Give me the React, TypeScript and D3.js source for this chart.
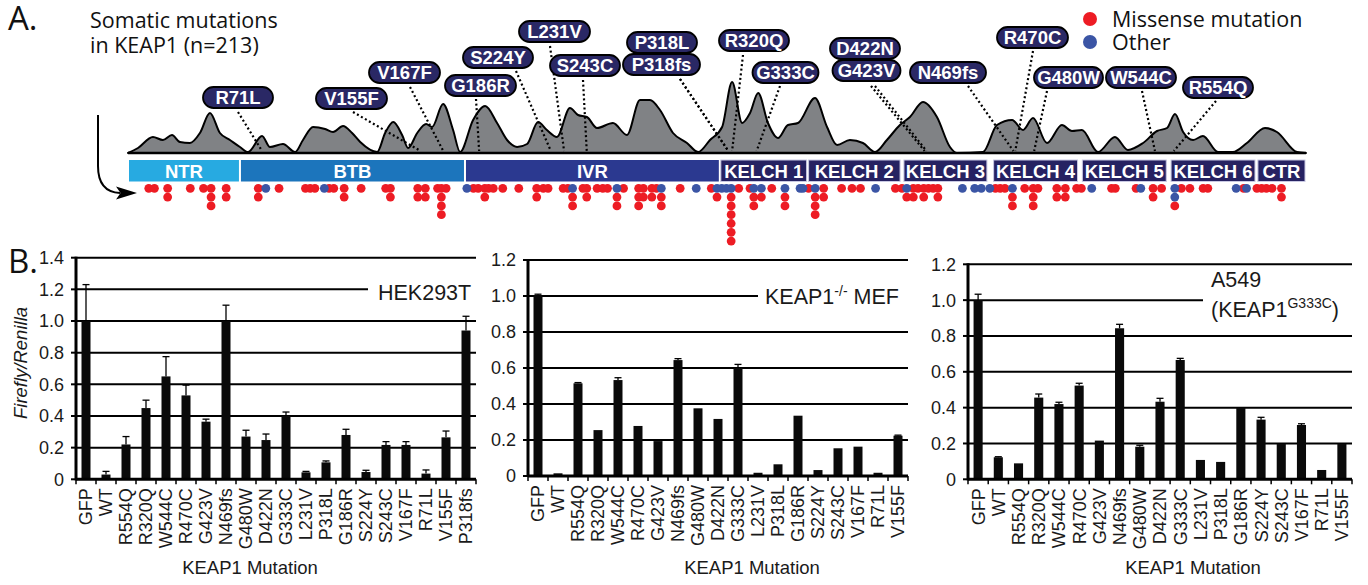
import React from "react";
import * as d3 from "d3";

const ARIAL = "Arial, 'Liberation Sans', Helvetica, sans-serif";
const HUM = "'Open Sans', Lato, sans-serif";

// ---------- Panel A data ----------
const proteinLength = 624;

const domainNames = ["NTR", "BTB", "IVR", "KELCH 1", "KELCH 2", "KELCH 3", "KELCH 4", "KELCH 5", "KELCH 6", "CTR"];
const domainStarts = [0, 59.3, 178.5, 313.5, 360, 410.5, 458, 505, 552, 598];
const domainEnds = [59.3, 178.5, 313.5, 360, 409.5, 455.5, 503.5, 550.5, 597.5, 624];

// density profile of mutations along the protein: [residue, relative density]
const densityProfile: [number, number][] = [
  [0, 0], [5.3, 5], [13.2, 16], [18.5, 13], [23.3, 18], [27.5, 11], [32.8, 10], [38.1, 20], [43.4, 40], [48.7, 20],
  [54, 13], [59.3, 6], [63.6, 1], [71, 17], [75.2, 6], [82.1, 9], [88.5, 1], [92.7, 13], [98, 26], [104.4, 24],
  [108.6, 21], [113.9, 27], [118.7, 20], [123, 11], [132, 1], [136.2, 20], [140.5, 31], [145.2, 18], [148.4, 5],
  [153.2, 20], [157.9, 29], [161.1, 26], [166.9, 49], [172.2, 23], [175.9, 1], [182.8, 33], [189.2, 47], [195.5, 30],
  [200.8, 13], [206.1, 6], [211.4, 9], [217.2, 31], [221.9, 23], [227.2, 16], [234.1, 45], [238.4, 38], [243.1, 36],
  [248.4, 25], [256.9, 30], [264.3, 18], [271.2, 53], [276.5, 53], [281.8, 43], [288.7, 20], [296.1, 10], [302, 1],
  [308.3, 13], [314.7, 26], [320, 71], [325.3, 30], [329.5, 40], [333.8, 60], [339, 30], [344.3, 15], [349.6, 28],
  [354.9, 30], [363.9, 55], [370.3, 26], [375.6, 8], [382.4, 13], [389.3, 10], [395.7, 1], [402, 13], [408.9, 28],
  [414.2, 36], [421.1, 51], [428.5, 36], [435.4, 6], [439.1, 0], [452.9, 1], [460.3, 28], [468.3, 33], [474.1, 23],
  [479.4, 35], [486.8, 10], [494.7, 28], [500, 22], [505.3, 23], [513.8, 1], [522.8, 16], [529.7, 3], [537.7, 10],
  [545.1, 22], [550.4, 25], [554.6, 39], [558.9, 21], [564.2, 13], [569.4, 17], [577.4, 1], [585.3, 1], [592.7, 10],
  [602.3, 25], [608.6, 21], [619.2, 1], [624, 0],
];

// mutation columns: [residue, stacked types top->bottom] m = missense, o = other
const mutationColumns: [number, string][] = [
  [11, "m"], [14, "m"], [21, "mm"], [33, "m"], [40, "m"], [44, "mmm"], [52, "mm"], [69, "mm"], [73, "o"], [80, "m"],
  [94, "m"], [96.5, "m"], [99, "m"], [104, "o"], [106.5, "m"], [109, "m"], [114.5, "mm"], [123.5, "m"], [136.5, "m"],
  [139, "mm"], [153.5, "mm"], [157.5, "mm"], [164, "m"], [166, "mmmm"], [168.5, "m"], [179.5, "o"], [183, "m"],
  [185.5, "m"], [189, "mm"], [191, "m"], [193.5, "m"], [198.5, "m"], [207, "m"],
  [216.5, "mm"], [220, "m"], [222.5, "m"], [230.5, "m"], [233, "m"], [235.5, "omm"], [241, "m"], [243, "mm"],
  [248.5, "m"], [251.5, "m"], [254, "m"], [259, "omm"], [262.5, "m"], [270.5, "mmm"], [273, "mm"], [277.5, "mm"],
  [280, "m"], [282.5, "omm"], [292.5, "m"], [301, "o"], [309, "m"], [312, "om"], [314.5, "o"], [317, "o"],
  [319.5, "ommmmmm"], [323.5, "m"], [329.5, "m"], [331.5, "omm"], [335.5, "om"], [341, "m"], [348, "omm"], [356, "o"],
  [357.5, "o"], [360.5, "m"], [364, "ommm"], [368.5, "mm"], [378, "m"], [383.5, "m"], [388, "m"], [396, "o"],
  [406.5, "m"], [410, "m"], [412.5, "om"],
  [416, "mm"], [418.5, "m"], [421.5, "mm"], [424, "m"], [426.5, "m"], [429, "mm"], [442, "o"], [448.5, "o"],
  [452, "o"], [456.5, "o"], [459.5, "m"], [462, "m"], [464.5, "m"], [468.5, "omm"], [475, "m"], [479.5, "mmm"],
  [482, "m"], [492, "mm"], [496.5, "mm"], [502.5, "m"], [505, "m"], [510.5, "o"], [521, "m"], [523, "m"], [534, "m"],
  [536.5, "o"], [543, "mm"], [547.5, "m"], [554.5, "oom"], [558, "m"], [562.5, "m"], [569.5, "m"], [572, "m"],
  [587, "o"], [591, "m"], [592.5, "o"], [598, "m"], [600.5, "m"], [603, "m"], [606, "m"], [611, "mm"],
];

const labelNames = ["R71L", "V155F", "V167F", "G186R", "S224Y", "L231V", "S243C", "P318L", "P318fs", "R320Q",
  "G333C", "D422N", "G423V", "N469fs", "R470C", "G480W", "W544C", "R554Q"];
const labelResidues = [71, 155, 167, 186, 224, 231, 243, 318, 318, 320, 333, 422, 423, 469, 470, 480, 544, 554];

// ---------- Panel B data ----------
const categoriesAll = ["GFP", "WT", "R554Q", "R320Q", "W544C", "R470C", "G423V", "N469fs", "G480W", "D422N",
  "G333C", "L231V", "P318L", "G186R", "S224Y", "S243C", "V167F", "R71L", "V155F", "P318fs"];
const categoriesCell = categoriesAll.slice(0, 19);

const hekValues = [1.0, 0.03, 0.22, 0.45, 0.65, 0.53, 0.364, 1.0, 0.27, 0.248, 0.4, 0.044, 0.107, 0.28, 0.046,
  0.217, 0.217, 0.036, 0.265, 0.94];
const hekErrors = [0.23, 0.02, 0.05, 0.05, 0.125, 0.065, 0.016, 0.1, 0.04, 0.038, 0.025, 0.006, 0.009, 0.036,
  0.011, 0.021, 0.021, 0.023, 0.04, 0.09];

const mefValues = [1.005, 0.015, 0.515, 0.255, 0.533, 0.278, 0.194, 0.644, 0.376, 0.317, 0.6, 0.018, 0.065, 0.335,
  0.033, 0.154, 0.163, 0.018, 0.224];
const mefErrors = [0.005, 0, 0.004, 0, 0.013, 0, 0, 0.008, 0, 0, 0.02, 0, 0, 0, 0, 0, 0, 0, 0.003];

const a549Values = [1.0, 0.123, 0.089, 0.456, 0.42, 0.523, 0.216, 0.843, 0.182, 0.433, 0.666, 0.108, 0.097, 0.4,
  0.333, 0.197, 0.303, 0.052, 0.197];
const a549Errors = [0.033, 0.003, 0, 0.02, 0.01, 0.013, 0, 0.022, 0.008, 0.019, 0.009, 0, 0, 0, 0.013, 0, 0.007, 0, 0];

// ---------- layout ----------
const labelLayout: Record<string, { cx: number; y: number; w: number; lx: number; ly: number }> = {
  R71L: { cx: 238, y: 87, w: 70, lx: 238, ly: 112 },
  V155F: { cx: 351.5, y: 88, w: 71, lx: 353, ly: 112 },
  V167F: { cx: 404.5, y: 62, w: 71, lx: 410, ly: 87 },
  G186R: { cx: 480.5, y: 75, w: 71, lx: 476, ly: 99 },
  S224Y: { cx: 498, y: 47, w: 70, lx: 516, ly: 71 },
  L231V: { cx: 554.5, y: 21, w: 71, lx: 550, ly: 46 },
  S243C: { cx: 585, y: 55, w: 70, lx: 583, ly: 80 },
  P318L: { cx: 662, y: 32, w: 70, lx: 680, ly: 79 },
  P318fs: { cx: 661.5, y: 54, w: 77, lx: 680, ly: 79 },
  R320Q: { cx: 754, y: 30, w: 70, lx: 743, ly: 55 },
  G333C: { cx: 785.5, y: 62, w: 66, lx: 780, ly: 86 },
  D422N: { cx: 865, y: 38, w: 70, lx: 871, ly: 86 },
  G423V: { cx: 866.5, y: 60, w: 68, lx: 875, ly: 86 },
  N469fs: { cx: 948, y: 62, w: 76, lx: 968, ly: 86 },
  R470C: { cx: 1032.5, y: 27, w: 71, lx: 1033, ly: 51 },
  G480W: { cx: 1068.5, y: 67, w: 69, lx: 1047, ly: 91 },
  W544C: { cx: 1141, y: 67, w: 70, lx: 1142, ly: 91 },
  R554Q: { cx: 1218, y: 77, w: 70, lx: 1216, ly: 101 },
};

const domainColors = ["#27aae1", "#1c75bc", "#2b3990", "#262262", "#262262", "#262262", "#262262", "#262262", "#262262", "#262262"];
const RED = "#ed1c24";
const BLUE = "#3b55a5";
const NAVY = "#2a2865";

function BarPanel(props: {
  cats: string[]; vals: number[]; errs: number[];
  x0: number; x1: number; yTop: number; yZero: number; yMax: number;
  breakValue: number; breakX: number; titleX: number; children?: React.ReactNode;
}) {
  const { cats, vals, errs, x0, x1, yTop, yZero, yMax, breakValue, breakX, titleX } = props;
  const x = d3.scaleBand<string>().domain(cats).range([x0, x1]).paddingInner(0.55).paddingOuter(0.275).align(0.5);
  const y = d3.scaleLinear().domain([0, yMax]).range([yZero, yTop]);
  const ticks = d3.range(0, yMax + 0.001, 0.2);
  const step = x.step();
  const bw = x.bandwidth();
  return (
    <g>
      {ticks.filter((t) => t > 0.001).map((t, i) => (
        <line key={"g" + i} x1={x0} x2={Math.abs(t - breakValue) < 0.001 ? breakX : x1} y1={y(t)} y2={y(t)}
          stroke="#000" strokeWidth={2} />
      ))}
      {ticks.map((t, i) => (
        <g key={"t" + i}>
          <line x1={x0 - 5} x2={x0} y1={y(t)} y2={y(t)} stroke="#000" strokeWidth={2} />
          <text x={x0 - 12} y={y(t)} dy="0.36em" textAnchor="end" fontFamily={ARIAL} fontSize={18} fill="#1a1a1a">
            {t < 0.001 ? "0" : t.toFixed(1)}
          </text>
        </g>
      ))}
      {d3.range(cats.length + 1).map((i) => (
        <line key={"xt" + i} x1={x0 + i * step} x2={x0 + i * step} y1={yZero} y2={yZero + 5} stroke="#000" strokeWidth={1.5} />
      ))}
      {cats.map((c, i) => (
        <g key={c}>
          <rect x={x(c)!} y={y(vals[i])} width={bw} height={yZero - y(vals[i])} fill="#0a0a0a" />
          {errs[i] > 0 && (
            <g stroke="#000" strokeWidth={1.3}>
              <line x1={x(c)! + bw / 2} x2={x(c)! + bw / 2} y1={y(vals[i])} y2={y(vals[i] + errs[i])} />
              <line x1={x(c)! + bw / 2 - 3.5} x2={x(c)! + bw / 2 + 3.5} y1={y(vals[i] + errs[i])} y2={y(vals[i] + errs[i])} />
            </g>
          )}
          <text transform={`translate(${x(c)! + bw / 2},${yZero + 9}) rotate(-90)`} dy="0.36em" textAnchor="end"
            fontFamily={ARIAL} fontSize={18} fill="#1a1a1a">{c}</text>
        </g>
      ))}
      <line x1={x0} x2={x0} y1={yZero + 1} y2={yTop - 1} stroke="#000" strokeWidth={3} />
      <line x1={x0} x2={x1} y1={yZero} y2={yZero} stroke="#000" strokeWidth={3} />
      <text x={titleX} y={574} textAnchor="middle" fontFamily={ARIAL} fontSize={18.5} fill="#1a1a1a">KEAP1 Mutation</text>
      {props.children}
    </g>
  );
}

export default function App() {
  const aaX = d3.scaleLinear().domain([0, proteinLength]).range([128, 1306]);
  const baseY = 153;
  const densY = d3.scaleLinear().domain([0, 71]).range([baseY, 82]);
  const area = d3.area<[number, number]>()
    .x((d) => aaX(d[0]))
    .y0(baseY)
    .y1((d) => densY(d[1]))
    .curve(d3.curveMonotoneX);

  const dots: { aa: number; row: number; t: string }[] = [];
  mutationColumns.forEach(([aa, types]) => {
    types.split("").forEach((t, r) => dots.push({ aa, row: r, t }));
  });
  dots.sort((a, b) => (a.t === b.t ? 0 : a.t === "m" ? -1 : 1));
  const rowY = (r: number) => 188.3 + r * 8.8;

  return (
    <svg width={1368} height={585} style={{ position: "absolute", left: 0, top: 0, background: "#fff" }}>
      {/* Panel A */}
      <text x={8} y={30} fontFamily={HUM} fontSize={33} fill="#111">A.</text>
      <text x={90} y={28} fontFamily={HUM} fontSize={21.5} fill="#111">Somatic mutations</text>
      <text x={90} y={53} fontFamily={HUM} fontSize={21.5} fill="#111">in KEAP1 (n=213)</text>

      <circle cx={1090} cy={19} r={7} fill={RED} />
      <text x={1112} y={27} fontFamily={HUM} fontSize={21.5} fill="#111">Missense mutation</text>
      <circle cx={1090} cy={42} r={7} fill={BLUE} />
      <text x={1112} y={50} fontFamily={HUM} fontSize={21.5} fill="#111">Other</text>

      <path d={area(densityProfile) || ""} fill="#808285" stroke="#000" strokeWidth={2} strokeLinejoin="round" />
      <line x1={aaX(0)} x2={aaX(proteinLength)} y1={baseY} y2={baseY} stroke="#000" strokeWidth={2.5} />

      {labelNames.map((n, i) => {
        const L = labelLayout[n];
        return (
          <line key={"pl" + n} x1={L.lx} y1={L.ly} x2={aaX(labelResidues[i])} y2={baseY - 2}
            stroke="#000" strokeWidth={2.2} strokeDasharray="2 2.6" />
        );
      })}
      {labelNames.map((n) => {
        const L = labelLayout[n];
        return (
          <g key={"lb" + n}>
            <rect x={L.cx - L.w / 2} y={L.y} width={L.w} height={21} rx={10.5} fill={NAVY} stroke="#000" strokeWidth={1.8} />
            <text x={L.cx} y={L.y + 17} textAnchor="middle" fontFamily={ARIAL} fontWeight="bold" fontSize={18.5} fill="#fff">{n}</text>
          </g>
        );
      })}

      {domainNames.map((n, i) => {
        const xs = aaX(domainStarts[i]) + 1;
        const xe = aaX(domainEnds[i]) - 1;
        return (
          <g key={n}>
            <rect x={xs} y={160} width={xe - xs} height={21.5} fill={domainColors[i]}
              stroke={i >= 3 ? "#c9c9e3" : "none"} strokeWidth={1} />
            <text x={(xs + xe) / 2} y={177.5} textAnchor="middle" fontFamily={ARIAL} fontWeight="bold" fontSize={18.5} fill="#fff">{n}</text>
          </g>
        );
      })}

      {dots.map((d, i) => (
        <circle key={"d" + i} cx={aaX(d.aa)} cy={rowY(d.row)} r={4.4} fill={d.t === "m" ? RED : BLUE} />
      ))}

      <path d="M98,115 L98,166 Q98,192 120,193" fill="none" stroke="#000" strokeWidth={2} />
      <path d="M137,193 L116,186.5 L120.5,193 L116,199.5 Z" fill="#000" />

      {/* Panel B */}
      <text x={8} y={273} fontFamily={HUM} fontSize={33} fill="#111">B.</text>
      <text transform="translate(27,363) rotate(-90)" textAnchor="middle" fontFamily={ARIAL} fontSize={18.5} fill="#1a1a1a">
        <tspan fontStyle="italic">Firefly/Renilla</tspan>
      </text>

      <BarPanel cats={categoriesAll} vals={hekValues} errs={hekErrors} x0={76} x1={476} yTop={257.7} yZero={479.3}
        yMax={1.4} breakValue={1.2} breakX={368} titleX={250}>
        <text x={378} y={300} fontFamily={ARIAL} fontSize={21.5} fill="#1a1a1a">HEK293T</text>
      </BarPanel>

      <BarPanel cats={categoriesCell} vals={mefValues} errs={mefErrors} x0={528} x1={908} yTop={260} yZero={476}
        yMax={1.2} breakValue={1.0} breakX={758} titleX={752}>
        <text x={765} y={304} fontFamily={ARIAL} fontSize={21.5} fill="#1a1a1a">
          KEAP1<tspan dy={-8} fontSize={14}>-/-</tspan><tspan dy={8}> MEF</tspan>
        </text>
      </BarPanel>

      <BarPanel cats={categoriesCell} vals={a549Values} errs={a549Errors} x0={968} x1={1352} yTop={264.3} yZero={479.3}
        yMax={1.2} breakValue={1.0} breakX={1203} titleX={1193}>
        <text x={1211} y={287} fontFamily={ARIAL} fontSize={21.5} fill="#1a1a1a">A549</text>
        <text x={1211} y={317} fontFamily={ARIAL} fontSize={21.5} fill="#1a1a1a">
          (KEAP1<tspan dy={-9} fontSize={14}>G333C</tspan><tspan dy={9}>)</tspan>
        </text>
      </BarPanel>
    </svg>
  );
}
